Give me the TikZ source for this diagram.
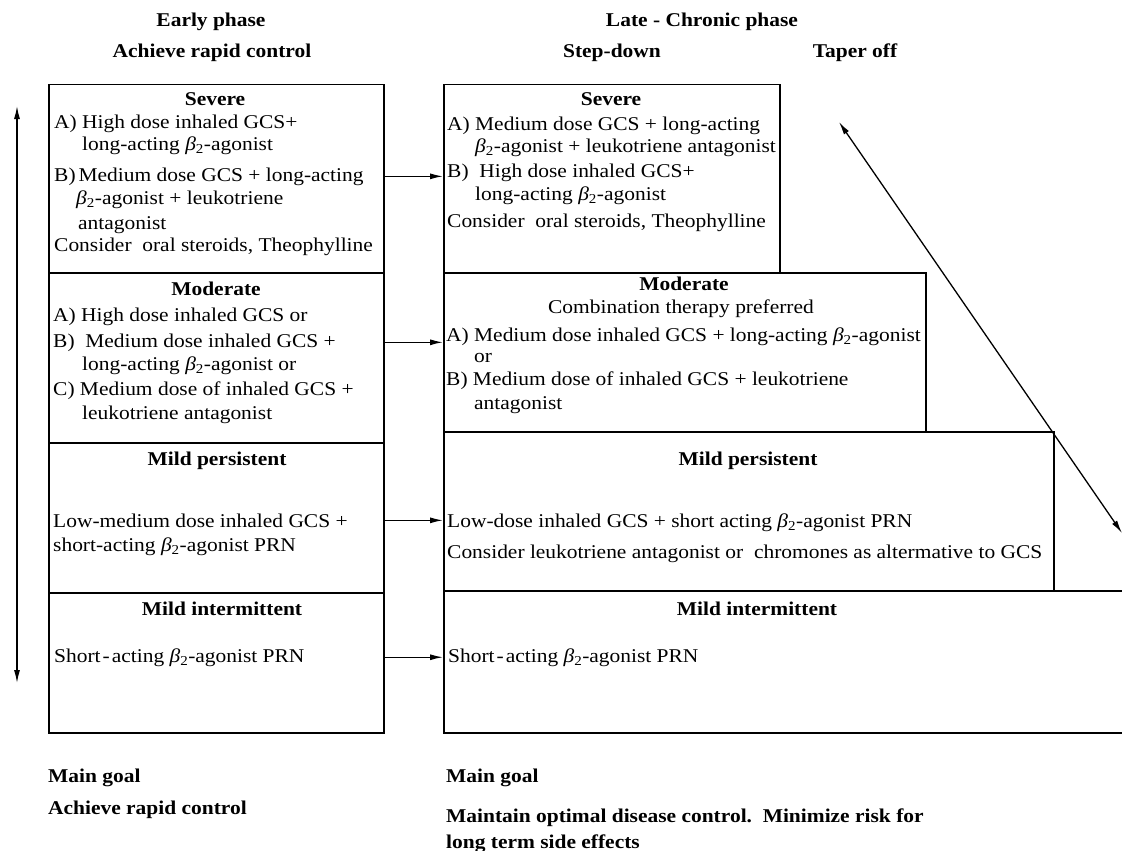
\documentclass[tikz,border=0pt]{standalone}
\usepackage{fontspec}
\setmainfont[FakeStretch=1.1]{Liberation Serif}
\usetikzlibrary{arrows.meta}
\newcommand{\bt}{\textit{β}\textsubscript{2}}
\begin{document}
\begin{tikzpicture}[x=1pt,y=-1pt,
  every node/.style={font=\fontsize{19.5}{23}\selectfont},
  box/.style={draw, line width=1.5pt, inner sep=0pt, anchor=north west},
  tl/.style={inner sep=0pt, anchor=base west},
  hd/.style={inner sep=0pt, anchor=base, font=\fontsize{19.5}{23}\selectfont\bfseries},
  bl/.style={inner sep=0pt, anchor=base west, font=\fontsize{19.5}{23}\selectfont\bfseries},
  arr/.style={-{Latex[length=13pt,width=6pt]}, line width=1.3pt},
  darr/.style={{Latex[length=13pt,width=6pt]}-{Latex[length=13pt,width=6pt]}, line width=1.3pt}]
\useasboundingbox (0,0) rectangle (1122,851);
\fill[white] (0,0) rectangle (1122,851);
\clip (0,0) rectangle (1122,851);

% headers
\node[hd] (h1) at (211,27) {Early phase};
\node[hd] (h2) at (212,58) {Achieve rapid control};
\node[hd] (h3) at (702,27) {Late - Chronic phase};
\node[hd] (h4) at (612,58) {Step-down};
\node[hd] (h5) at (855,58) {Taper off};

% left column boxes
\node[box, minimum width=335pt, minimum height=188pt] (L1) at (48,84) {};
\node[box, minimum width=335pt, minimum height=170pt] (L2) at (48,272) {};
\node[box, minimum width=335pt, minimum height=150pt] (L3) at (48,442) {};
\node[box, minimum width=335pt, minimum height=140pt] (L4) at (48,592) {};

% right column boxes
\node[box, minimum width=336pt, minimum height=188pt] (R1) at (443,84) {};
\node[box, minimum width=482pt, minimum height=159pt] (R2) at (443,272) {};
\node[box, minimum width=610pt, minimum height=159pt] (R3) at (443,431) {};
\node[box, minimum width=720pt, minimum height=142pt] (R4) at (443,590) {};

% left severe
\node[hd] (l1h) at (215,105) {Severe};
\node[tl] (l1a) at (54,128) {A) High dose inhaled GCS+};
\node[tl] (l1b) at (82,150) {long-acting \bt-agonist};
\node[tl] (l1c) at (54,181) {B)\kern3pt Medium dose GCS + long-acting};
\node[tl] (l1d) at (76,204) {\bt-agonist + leukotriene};
\node[tl] (l1e) at (78,229) {antagonist};
\node[tl] (l1f) at (54,251) {Consider\ \ oral steroids, Theophylline};

% left moderate
\node[hd] (l2h) at (216,295) {Moderate};
\node[tl] (l2a) at (53,321) {A) High dose inhaled GCS or};
\node[tl] (l2b) at (53,347) {B)\ \ Medium dose inhaled GCS +};
\node[tl] (l2c) at (82,370) {long-acting \bt-agonist or};
\node[tl] (l2d) at (53,395) {C) Medium dose of inhaled GCS +};
\node[tl] (l2e) at (82,419) {leukotriene antagonist};

% left mild persistent
\node[hd] (l3h) at (217,465) {Mild persistent};
\node[tl] (l3a) at (53,527) {Low-medium dose inhaled GCS +};
\node[tl] (l3b) at (53,551) {short-acting \bt-agonist PRN};

% left mild intermittent
\node[hd] (l4h) at (222,615) {Mild intermittent};
\node[tl] (l4a) at (54,662) {Short\kern2pt-\kern2pt acting \bt-agonist PRN};

% right severe
\node[hd] (r1h) at (611,105) {Severe};
\node[tl] (r1a) at (447,130) {A) Medium dose GCS + long-acting};
\node[tl] (r1b) at (475,152) {\bt-agonist + leukotriene antagonist};
\node[tl] (r1c) at (447,177) {B)\ \ High dose inhaled GCS+};
\node[tl] (r1d) at (475,200) {long-acting \bt-agonist};
\node[tl] (r1e) at (447,227) {Consider\ \ oral steroids, Theophylline};

% right moderate
\node[hd] (r2h) at (684,290) {Moderate};
\node[inner sep=0pt, anchor=base] (r2s) at (681,313) {Combination therapy preferred};
\node[tl] (r2a) at (446,341) {A) Medium dose inhaled GCS + long-acting \bt-agonist};
\node[tl] (r2b) at (474,362) {or};
\node[tl] (r2c) at (446,385) {B) Medium dose of inhaled GCS + leukotriene};
\node[tl] (r2d) at (474,409) {antagonist};

% right mild persistent
\node[hd] (r3h) at (748,465) {Mild persistent};
\node[tl] (r3a) at (447,527) {Low-dose inhaled GCS + short acting \bt-agonist PRN};
\node[tl] (r3b) at (447,558) {Consider leukotriene antagonist or\ \ chromones as altermative to GCS};

% right mild intermittent
\node[hd] (r4h) at (757,615) {Mild intermittent};
\node[tl] (r4a) at (448,662) {Short\kern2pt-\kern2pt acting \bt-agonist PRN};

% bottom
\node[bl] (g1) at (48,782) {Main goal};
\node[bl] (g2) at (48,814) {Achieve rapid control};
\node[bl] (g3) at (446,782) {Main goal};
\node[bl] (g4) at (446,822) {Maintain optimal disease control.\ \ Minimize risk for};
\node[bl] (g5) at (446,848) {long term side effects};

% connectors between columns
\draw[arr] (L1.east |- l1c) -- (R1.west |- l1c);
\draw[arr] (L2.east |- l2b) -- (R2.west |- l2b);
\draw[arr] (L3.east |- l3a) -- (R3.west |- l3a);
\draw[arr] (L4.east |- l4a) -- (R4.west |- l4a);

% severity double arrow
\coordinate (vt) at (17,106);
\coordinate (vb) at (17,683);
\draw[darr] (vt) -- (vb);

% taper diagonal
\coordinate (dt) at (839,122);
\coordinate (db) at (1122,533);
\draw[darr] (dt) -- (db);
\end{tikzpicture}
\end{document}
